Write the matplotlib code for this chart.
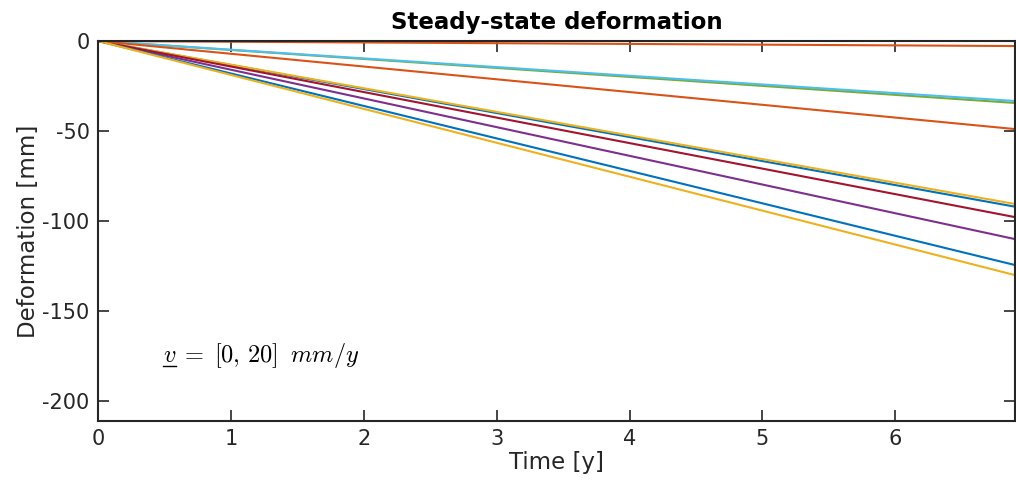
import matplotlib.pyplot as plt
from matplotlib.lines import Line2D
import numpy as np

# time span of the simulation [y]
t_span = [0.0, 6.9]

# final deformation of each observation point after t_span[1] years [mm]
final_def = [-92.0, -2.8, -90.5, -110.0, -34.4, -33.3, -97.8, -124.4, -48.9, -130.0]

# MATLAB default colour order
colors = ['#0072BD', '#D95319', '#EDB120', '#7E2F8E', '#77AC30',
          '#4DBEEE', '#A2142F', '#0072BD', '#D95319', '#EDB120']

axcol = '#262626'
plt.rcParams['font.family'] = 'DejaVu Sans'
plt.rcParams['mathtext.fontset'] = 'cm'

fig = plt.figure(figsize=(10.16, 4.84), dpi=100)
ax = fig.add_axes([98 / 1016, 1 - 421 / 484, 917 / 1016, 380 / 484])

for d, c in zip(final_def, colors):
    ax.plot(t_span, [0.0, d], color=c, linewidth=1.5)

ax.set_xlim(0, 6.9)
ax.set_ylim(-211, 0)
ax.set_xticks(range(0, 7))
ax.set_yticks([0, -50, -100, -150, -200])
ax.set_yticklabels(['0', '-50', '-100', '-150', '-200'])

ax.tick_params(direction='in', length=8, width=1.2, colors=axcol,
               labelsize=15, top=True, right=True, pad=6)
for s in ax.spines.values():
    s.set_color(axcol)
    s.set_linewidth(1.5)

ax.set_title('Steady-state deformation', fontsize=16.5, fontweight='bold', pad=9)
ax.set_xlabel('Time [y]', fontsize=16.5, color=axcol, labelpad=1)
ax.set_ylabel('Deformation [mm]', fontsize=16.5, color=axcol, labelpad=2)

# velocity annotation; mathtext has no \underline, so the bar under v is drawn by hand
ann_x, ann_y = 0.49, -178
ax.text(ann_x, ann_y, r'$v\;=\;[0,\,20]\;\;mm/y$', fontsize=17.5, va='baseline', ha='left')
vtxt = ax.text(ann_x, ann_y, r'$v$', fontsize=17.5, va='baseline', ha='left', alpha=0)
fig.canvas.draw()
bb = vtxt.get_window_extent()
x0, y0 = ax.transData.transform((ann_x, ann_y))
ax.add_line(Line2D([bb.x0, bb.x1], [y0 - 4, y0 - 4], color='black',
                   linewidth=1.0, transform=None))

fig.savefig('out.png', dpi=100)
